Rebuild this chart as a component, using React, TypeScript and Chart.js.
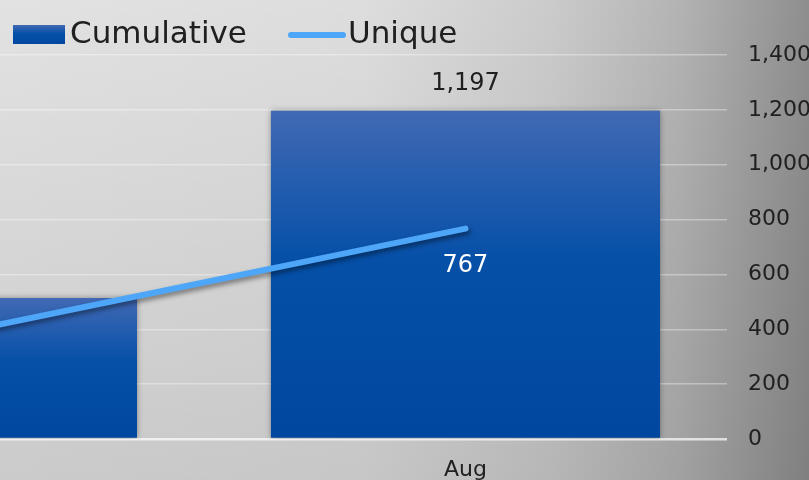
import React, { useEffect, useRef } from "react";
import { Chart, registerables } from "chart.js";

Chart.register(...registerables);

const categories: string[] = ["Jul", "Aug"];
const cumulative: number[] = [514, 1197];
const unique: number[] = [375, 767];
const seriesNames: string[] = ["Cumulative", "Unique"];
const yMin = 0;
const yMax = 1400;
const yStep = 200;

const FONT = "'DejaVu Sans', sans-serif";
const TEXT = "#202020";
const LINE_COLOR = "#4ea6f8";

function barGradient(ctx: CanvasRenderingContext2D, top: number, bottom: number) {
  const g = ctx.createLinearGradient(0, top, 0, bottom);
  g.addColorStop(0, "#4169b4");
  g.addColorStop(0.45, "#0650a8");
  g.addColorStop(1, "#0047a0");
  return g;
}

const shadowPlugin = {
  id: "shadows",
  beforeDatasetDraw(chart: any, args: any) {
    const ctx = chart.ctx;
    ctx.save();
    const ds = chart.data.datasets[args.index];
    if (ds.type === "line") {
      ctx.shadowColor = "rgba(0,0,0,0.45)";
      ctx.shadowBlur = 5;
      ctx.shadowOffsetX = 2;
      ctx.shadowOffsetY = 3;
    } else {
      ctx.shadowColor = "rgba(0,0,0,0.35)";
      ctx.shadowBlur = 6;
      ctx.shadowOffsetX = 0;
      ctx.shadowOffsetY = 0;
    }
  },
  afterDatasetDraw(chart: any) {
    chart.ctx.restore();
  },
};

const valueLabelPlugin = {
  id: "valueLabels",
  afterDatasetsDraw(chart: any) {
    const ctx = chart.ctx;
    chart.data.datasets.forEach((ds: any, di: number) => {
      const meta = chart.getDatasetMeta(di);
      meta.data.forEach((el: any, i: number) => {
        const v = ds.data[i].y as number;
        const txt = v.toLocaleString("en-US");
        ctx.save();
        ctx.font = `24px ${FONT}`;
        ctx.textAlign = "center";
        ctx.textBaseline = "middle";
        if (ds.type === "line") {
          ctx.fillStyle = "#ffffff";
          ctx.fillText(txt, el.x, el.y + 37);
        } else {
          ctx.fillStyle = TEXT;
          ctx.fillText(txt, el.x, el.y - 27);
        }
        ctx.restore();
      });
    });
  },
};

const legendPlugin = {
  id: "customLegend",
  afterDraw(chart: any) {
    const ctx = chart.ctx;
    ctx.save();
    // bar swatch
    ctx.fillStyle = barGradient(ctx, 25, 44);
    ctx.fillRect(13, 25, 52, 19);
    ctx.font = `31px ${FONT}`;
    ctx.fillStyle = TEXT;
    ctx.textAlign = "left";
    ctx.textBaseline = "middle";
    ctx.fillText(seriesNames[0], 70, 35);
    // line swatch
    ctx.strokeStyle = LINE_COLOR;
    ctx.lineWidth = 6;
    ctx.lineCap = "round";
    ctx.beginPath();
    ctx.moveTo(291, 35);
    ctx.lineTo(343, 35);
    ctx.stroke();
    ctx.fillText(seriesNames[1], 348, 35);
    ctx.restore();
  },
};

export default function App() {
  const ref = useRef<HTMLCanvasElement>(null);

  useEffect(() => {
    const canvas = ref.current;
    if (!canvas) return;
    const xMin = 0.11;
    const xMax = 1.5;
    const chart = new Chart(canvas, {
      type: "bar",
      data: {
        datasets: [
          {
            type: "line",
            label: seriesNames[1],
            data: unique.map((v, i) => ({ x: i, y: v })),
            borderColor: LINE_COLOR,
            backgroundColor: LINE_COLOR,
            borderWidth: 6,
            borderCapStyle: "round",
            pointRadius: 0,
            tension: 0,
            order: 0,
          } as any,
          {
            type: "bar",
            label: seriesNames[0],
            data: cumulative.map((v, i) => ({ x: i, y: v })),
            backgroundColor: (c: any) => {
              const ch = c.chart;
              if (!ch.chartArea || !ch.scales.y || c.type !== "data") return "#0650a8";
              const y = ch.scales.y;
              return barGradient(ch.ctx, y.getPixelForValue(c.raw.y), y.getPixelForValue(0));
            },
            borderWidth: 0,
            categoryPercentage: 1,
            barPercentage: 0.744,
            order: 1,
          } as any,
        ],
      },
      options: {
        responsive: false,
        animation: false,
        events: [],
        layout: { padding: { top: 55, left: 0, right: 0, bottom: 0 } },
        plugins: {
          legend: { display: false },
          tooltip: { enabled: false },
          title: { display: false },
        },
        scales: {
          x: {
            type: "linear",
            min: xMin,
            max: xMax,
            offset: false,
            grid: { display: false, drawTicks: false },
            border: { display: false },
            afterBuildTicks: (axis: any) => {
              axis.ticks = categories
                .map((_, i) => ({ value: i }))
                .filter((t) => t.value >= xMin && t.value <= xMax);
            },
            afterFit: (axis: any) => {
              axis.height = 41;
            },
            ticks: {
              padding: 18,
              color: TEXT,
              font: { family: FONT, size: 22 },
              maxRotation: 0,
              autoSkip: false,
              callback: (v: any) => categories[Math.round(Number(v))] ?? "",
            },
          },
          y: {
            position: "right",
            min: yMin,
            max: yMax,
            border: { display: false },
            grid: {
              drawTicks: false,
              color: (c: any) => (c.tick && c.tick.value === 0 ? "rgba(255,255,255,0.7)" : "rgba(255,255,255,0.35)"),
              lineWidth: (c: any) => (c.tick && c.tick.value === 0 ? 2.5 : 1.5),
            },
            afterFit: (axis: any) => {
              axis.width = 82;
            },
            ticks: {
              stepSize: yStep,
              padding: 21,
              color: TEXT,
              font: { family: FONT, size: 22 },
              callback: (v: any) => Number(v).toLocaleString("en-US"),
            },
          },
        },
      } as any,
      plugins: [shadowPlugin, valueLabelPlugin, legendPlugin],
    });
    return () => chart.destroy();
  }, []);

  return (
    <div
      style={{
        position: "fixed",
        left: 0,
        top: 0,
        width: 809,
        height: 480,
        background:
          "linear-gradient(to bottom, rgba(0,0,0,0) 0%, rgba(0,0,0,0.1) 100%), linear-gradient(to right, #e2e2e2 0%, #dddddd 45%, #cbcbcb 68%, #b3b3b3 84%, #8e8e8e 100%)",
      }}
    >
      <canvas ref={ref} width={809} height={480} style={{ display: "block", width: 809, height: 480 }} />
    </div>
  );
}
